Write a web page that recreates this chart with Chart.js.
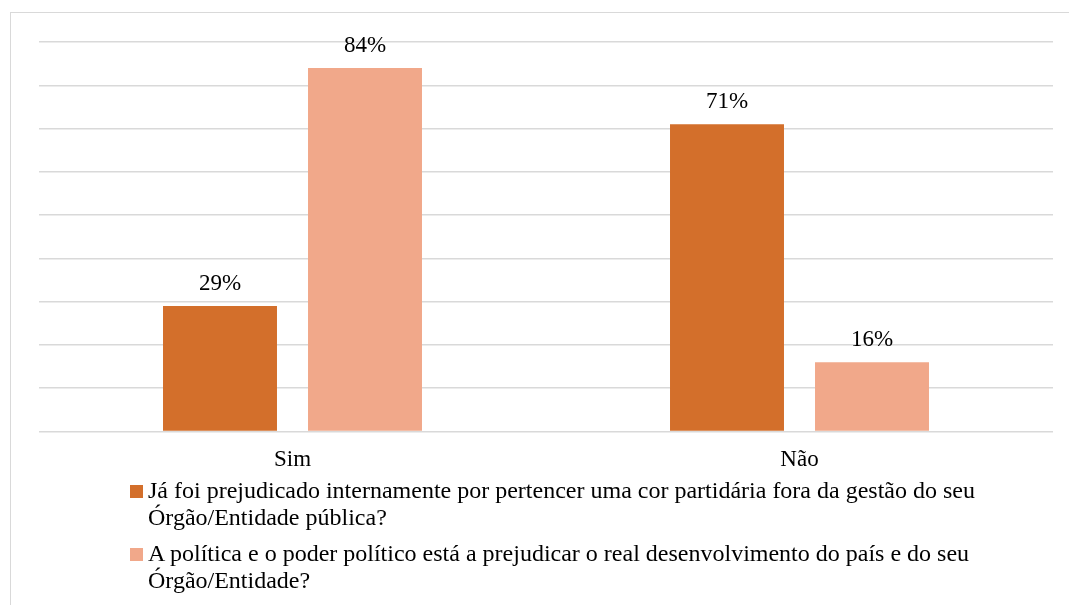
<!DOCTYPE html>
<html>
<head>
<meta charset="utf-8">
<script src="https://cdn.jsdelivr.net/npm/chart.js@4/dist/chart.umd.min.js"></script>
<style>
  html, body { margin: 0; padding: 0; background: #fff; }
  #wrap { position: relative; width: 1069px; height: 605px; overflow: hidden; }
  #frame { position: absolute; left: 10px; top: 12px; width: 1080px; height: 620px; border: 1.5px solid #d9d9d9; box-sizing: border-box; }
  canvas { position: absolute; left: 0; top: 0; }
  #legend { position: absolute; left: 130px; top: 477px; width: 850px; font-family: "Liberation Serif", "Times New Roman", serif; font-size: 24px; line-height: 27.3px; color: #000; }
  .item { position: relative; padding-left: 18px; margin-bottom: 8px; }
  .sw { position: absolute; left: 0; top: 8px; width: 13px; height: 13px; }
</style>
</head>
<body>
<div id="wrap">
  <div id="frame"></div>
  <canvas id="c" width="1069" height="605"></canvas>
  <div id="legend"></div>
</div>
<script>
const categories = ["Sim", "Não"];
const seriesNames = [
  "Já foi prejudicado internamente por pertencer uma cor partidária fora da gestão do seu Órgão/Entidade pública?",
  "A política e o poder político está a prejudicar o real desenvolvimento do país e do seu Órgão/Entidade?"
];
const series1 = [29, 71];
const series2 = [84, 16];
const colors = ["#D36F2B", "#F1A88A"];

const labelPlugin = {
  id: 'valueLabels',
  afterDatasetsDraw(chart) {
    const ctx = chart.ctx;
    ctx.save();
    ctx.font = '23px "Liberation Serif", "Times New Roman", serif';
    ctx.fillStyle = '#000';
    ctx.textAlign = 'center';
    ctx.textBaseline = 'alphabetic';
    chart.data.datasets.forEach((ds, i) => {
      chart.getDatasetMeta(i).data.forEach((bar, j) => {
        ctx.fillText(ds.data[j] + '%', bar.x, bar.y - 16);
      });
    });
    ctx.restore();
  }
};

new Chart(document.getElementById('c'), {
  type: 'bar',
  data: {
    labels: categories,
    datasets: [
      { label: seriesNames[0], data: series1, backgroundColor: colors[0] },
      { label: seriesNames[1], data: series2, backgroundColor: colors[1] }
    ]
  },
  options: {
    responsive: false,
    animation: false,
    devicePixelRatio: 1,
    layout: { padding: { left: 39, right: 16, top: 42, bottom: 124 } },
    datasets: { bar: { categoryPercentage: 0.572, barPercentage: 0.786 } },
    plugins: { legend: { display: false }, tooltip: { enabled: false } },
    scales: {
      x: {
        grid: { display: false },
        border: { display: false },
        ticks: { color: '#000', padding: 7, font: { family: '"Liberation Serif", "Times New Roman", serif', size: 23 } }
      },
      y: {
        min: 0, max: 90,
        ticks: { display: false, stepSize: 10 },
        border: { display: false },
        grid: { color: '#d9d9d9', lineWidth: 1.5, drawTicks: false }
      }
    }
  },
  plugins: [labelPlugin]
});

const leg = document.getElementById('legend');
seriesNames.forEach((n, i) => {
  const d = document.createElement('div');
  d.className = 'item';
  const s = document.createElement('span');
  s.className = 'sw';
  s.style.background = colors[i];
  d.appendChild(s);
  d.appendChild(document.createTextNode(n));
  leg.appendChild(d);
});
</script>
</body>
</html>
